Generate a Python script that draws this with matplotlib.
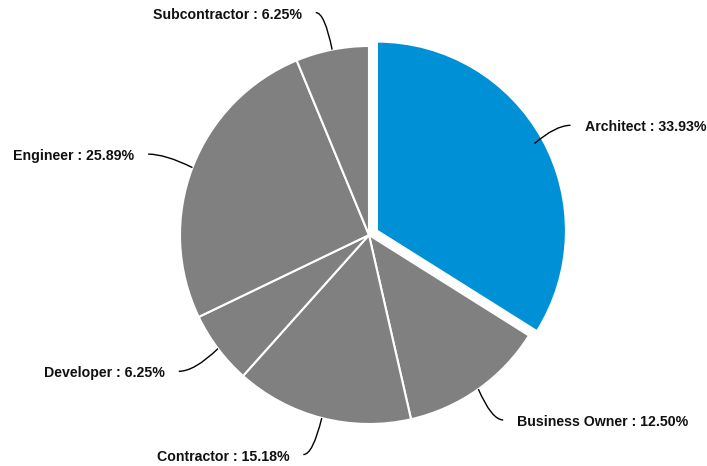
import numpy as np
import matplotlib.pyplot as plt
from matplotlib.path import Path
from matplotlib.patches import PathPatch

plt.rcParams['font.family'] = ['Liberation Sans', 'DejaVu Sans']

roles = ['Architect', 'Business Owner', 'Contractor', 'Developer', 'Engineer', 'Subcontractor']
shares = [33.93, 12.50, 15.18, 6.25, 25.89, 6.25]
colors = ['#0090d6', '#808080', '#808080', '#808080', '#808080', '#808080']
pulled = [True, False, False, False, False, False]

W, H = 707, 466
cx, cy, R = 369, H - 235, 189

fig = plt.figure(figsize=(W / 100, H / 100), dpi=100)
ax = fig.add_axes([0, 0, 1, 1])
# pie explode is in data units here, so scale it by the radius
explode = [0.048 * R if p else 0 for p in pulled]
wedges, _ = ax.pie(shares, colors=colors, explode=explode, startangle=90,
                   counterclock=False, center=(cx, cy), radius=R,
                   wedgeprops=dict(edgecolor='white', linewidth=1.5))
ax.set_xlim(0, W)
ax.set_ylim(0, H)
ax.set_aspect('equal')
ax.axis('off')

# leader lines: quadratic curve from the rim, ending horizontal at the label
for w, name, val in zip(wedges, roles, shares):
    ang = (w.theta1 + w.theta2) / 2
    ux, uy = np.cos(np.radians(ang)), np.sin(np.radians(ang))
    side = 1 if ux >= 0 else -1
    sx, sy = cx + R * ux, cy + R * uy
    ex, ey = cx - 3 + 1.2 * R * ux + side * 6, cy + 1.2 * R * uy
    ctrl = (ex - side * (0.3 * abs(ex - sx) + 4), ey)
    path = Path([(sx, sy), ctrl, (ex, ey)], [Path.MOVETO, Path.CURVE3, Path.CURVE3])
    ax.add_patch(PathPatch(path, fill=False, edgecolor='black', lw=1))
    ax.text(ex + side * 14, ey - 2, f'{name} : {val:.2f}%',
            ha='left' if side > 0 else 'right', va='center',
            fontsize=10.2, fontweight='bold', color='#111111')

fig.savefig('out.png', dpi=100)
